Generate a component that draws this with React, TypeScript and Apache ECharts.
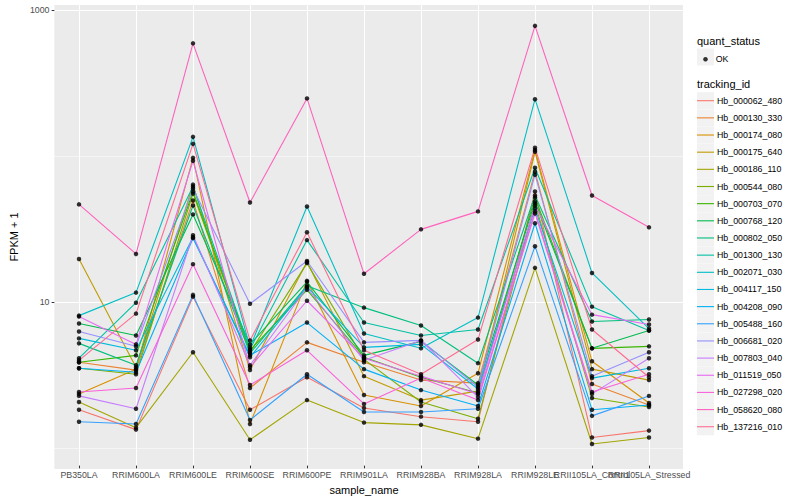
import React, { useEffect, useRef } from "react";
import * as echarts from "echarts";

const categories = [
  "PB350LA",
  "RRIM600LA",
  "RRIM600LE",
  "RRIM600SE",
  "RRIM600PE",
  "RRIM901LA",
  "RRIM928BA",
  "RRIM928LA",
  "RRIM928LE",
  "RRII105LA_Control",
  "RRII105LA_Stressed",
];

const trackingIds = [
  "Hb_000062_480",
  "Hb_000130_330",
  "Hb_000174_080",
  "Hb_000175_640",
  "Hb_000186_110",
  "Hb_000544_080",
  "Hb_000703_070",
  "Hb_000768_120",
  "Hb_000802_050",
  "Hb_001300_130",
  "Hb_002071_030",
  "Hb_004117_150",
  "Hb_004208_090",
  "Hb_005488_160",
  "Hb_006681_020",
  "Hb_007803_040",
  "Hb_011519_050",
  "Hb_027298_020",
  "Hb_058620_080",
  "Hb_137216_010",
];

const colors = [
  "#F8766D", "#EA8331", "#D89000", "#C09B00", "#A3A500",
  "#7CAE00", "#39B600", "#00BB4E", "#00BF7D", "#00C1A3",
  "#00BFC4", "#00BAE0", "#00B0F6", "#35A2FF", "#9590FF",
  "#C77CFF", "#E76BF3", "#FA62DB", "#FF62BC", "#FF6C91",
];

// FPKM + 1 per sample, in the order of `categories`
const hb_000062_480 = [1.74, 1.27, 10.5, 1.74, 2.92, 1.79, 1.56, 1.44, 55.8, 1.12, 1.25];
const hb_000130_330 = [3.7, 3.27, 48.4, 2.46, 5.08, 3.7, 2.79, 2.66, 76.5, 2.62, 1.88];
const hb_000174_080 = [2.24, 3.32, 95.3, 1.39, 13.5, 2.2, 1.85, 3.11, 108, 3.76, 1.94];
const hb_000175_640 = [19.1, 3.42, 62.3, 3.27, 18.2, 2.97, 2.03, 2.34, 105, 3.32, 2.79];
const hb_000186_110 = [1.97, 1.31, 4.34, 1.08, 2.03, 1.42, 1.37, 1.1, 16.6, 1.01, 1.12];
const hb_000544_080 = [3.37, 3.06, 54.0, 4.34, 17.9, 3.88, 1.97, 1.51, 46.2, 2.1, 1.82];
const hb_000703_070 = [3.7, 4.13, 55.8, 4.48, 11.7, 4.01, 2.92, 2.27, 50.7, 4.62, 4.77];
const hb_000768_120 = [6.85, 5.67, 38.8, 4.92, 13.3, 4.13, 5.16, 2.58, 47.6, 4.62, 6.13];
const hb_000802_050 = [5.0, 3.53, 44.7, 4.27, 12.5, 8.82, 6.64, 3.65, 52.4, 7.07, 7.3];
const hb_001300_130 = [3.95, 9.54, 60.4, 4.55, 25.8, 6.96, 5.67, 6.23, 81.5, 8.96, 6.13];
const hb_002071_030 = [7.77, 11.2, 133, 4.69, 44.0, 5.85, 4.62, 7.53, 242, 15.3, 6.33];
const hb_004117_150 = [5.41, 4.48, 27.0, 4.01, 12.3, 4.69, 4.92, 2.42, 42.7, 2.88, 3.37];
const hb_004208_090 = [3.37, 3.16, 26.6, 4.13, 6.96, 3.32, 2.38, 1.85, 33.7, 1.74, 1.88];
const hb_005488_160 = [1.44, 1.39, 10.8, 1.48, 3.06, 1.68, 1.68, 1.77, 23.4, 1.58, 2.17];
const hb_006681_020 = [6.04, 4.77, 58.5, 9.39, 18.5, 5.08, 5.24, 2.5, 72.9, 2.97, 4.34];
const hb_007803_040 = [2.17, 1.77, 27.9, 3.53, 12.1, 3.82, 5.24, 2.13, 39.4, 2.24, 3.95];
const hb_011519_050 = [7.65, 4.92, 91.0, 3.42, 9.84, 3.95, 2.97, 2.24, 44.7, 7.89, 6.74];
const hb_027298_020 = [2.31, 2.46, 17.6, 2.58, 4.48, 1.91, 2.88, 2.03, 40.7, 2.31, 3.06];
const hb_058620_080 = [45.5, 20.7, 588, 46.9, 245, 15.1, 30.6, 40.7, 776, 52.4, 31.6];
const hb_137216_010 = [3.82, 8.02, 119, 5.24, 29.2, 4.48, 3.06, 5.32, 112, 6.23, 2.92];

const seriesValues = [
  hb_000062_480, hb_000130_330, hb_000174_080, hb_000175_640, hb_000186_110,
  hb_000544_080, hb_000703_070, hb_000768_120, hb_000802_050, hb_001300_130,
  hb_002071_030, hb_004117_150, hb_004208_090, hb_005488_160, hb_006681_020,
  hb_007803_040, hb_011519_050, hb_027298_020, hb_058620_080, hb_137216_010,
];

const yMajorTicks = [10, 1000];
const yMinorTicks = [1, 100];
const yMin = 0.717;
const yMax = 1081;

const FONT = "Liberation Sans, Arial, Helvetica, sans-serif";

export default function App() {
  const ref = useRef<HTMLDivElement>(null);

  useEffect(() => {
    if (!ref.current) return;
    const chart = echarts.init(ref.current, undefined, { renderer: "svg" });

    const lineIcon = "path://M0,0M17,17M0,7.95L17,7.95L17,9.05L0,9.05Z";
    const legendTop = 92.2;
    const legendItem = 17;
    const legendGap = 0.16;

    const keyRects: any[] = [
      {
        type: "rect",
        shape: { x: 697, y: 48.5, width: 17, height: 17 },
        style: { fill: "#F2F2F2" },
        z: 0,
      },
    ];
    trackingIds.forEach((_, i) => {
      keyRects.push({
        type: "rect",
        shape: { x: 697, y: legendTop + i * (legendItem + legendGap), width: 17, height: 17 },
        style: { fill: "#F2F2F2" },
        z: 0,
      });
    });

    const scatterData: any[] = [];
    seriesValues.forEach((vals) => {
      vals.forEach((v, i) => scatterData.push([i, v]));
    });

    const option: any = {
      animation: false,
      backgroundColor: "#FFFFFF",
      textStyle: { fontFamily: FONT },
      grid: [
        {
          left: 45,
          right: 117,
          top: 5,
          bottom: 31,
          show: true,
          backgroundColor: "#EBEBEB",
          borderWidth: 0,
        },
        {
          left: 79,
          right: 151,
          top: 5,
          bottom: 31,
          show: false,
        },
      ],
      xAxis: [
        {
          gridIndex: 0,
          type: "value",
          min: 0,
          max: 1,
          show: false,
        },
        {
          gridIndex: 1,
          type: "category",
          data: categories,
          boundaryGap: false,
          axisLine: { show: false },
          axisTick: { show: true, length: 2.7, lineStyle: { color: "#333333", width: 1 } },
          axisLabel: {
            interval: 0,
            fontSize: 8.8,
            color: "#4D4D4D",
            fontFamily: FONT,
            margin: 4.5,
          },
          splitLine: { show: true, lineStyle: { color: "#FFFFFF", width: 1.07 } },
          name: "sample_name",
          nameLocation: "middle",
          nameGap: 14,
          nameTextStyle: { fontSize: 11, color: "#000000", fontFamily: FONT },
        },
      ],
      yAxis: [
        {
          gridIndex: 0,
          type: "log",
          logBase: 10,
          min: yMin,
          max: yMax,
          position: "left",
          axisLine: { show: false },
          axisTick: {
            show: true,
            length: 2.7,
            lineStyle: { color: "#333333", width: 1 },
            customValues: yMajorTicks,
          },
          axisLabel: {
            customValues: yMajorTicks,
            fontSize: 8.8,
            color: "#4D4D4D",
            fontFamily: FONT,
            margin: 4.9,
            formatter: (v: number) => String(Math.round(v)),
          },
          splitLine: { show: true, lineStyle: { color: "#FFFFFF", width: 1.07 } },
          name: "FPKM + 1",
          nameLocation: "middle",
          nameGap: 26,
          nameTextStyle: { fontSize: 11, color: "#000000", fontFamily: FONT },
        },
        {
          gridIndex: 0,
          type: "log",
          logBase: 10,
          min: yMin,
          max: yMax,
          position: "right",
          axisLine: { show: false },
          axisTick: { show: false, customValues: yMinorTicks },
          axisLabel: { show: false, customValues: yMinorTicks },
          splitLine: { show: true, lineStyle: { color: "#FFFFFF", width: 0.53 } },
        },
        {
          gridIndex: 1,
          type: "log",
          logBase: 10,
          min: yMin,
          max: yMax,
          show: false,
          splitLine: { show: false },
        },
      ],
      legend: [
        {
          orient: "vertical",
          left: 703.25,
          top: 54.75,
          padding: 0,
          itemWidth: 4.5,
          itemHeight: 4.5,
          selectedMode: false,
          data: [{ name: "OK", icon: "circle", itemStyle: { color: "#000000", borderWidth: 0 } }],
          textStyle: { fontSize: 8.8, color: "#000000", fontFamily: FONT, padding: [0, 0, 0, 3] },
        },
        {
          orient: "vertical",
          left: 697,
          top: legendTop,
          padding: 0,
          itemWidth: legendItem,
          itemHeight: legendItem,
          itemGap: legendGap,
          selectedMode: false,
          data: trackingIds.map((name, i) => ({
            name,
            icon: lineIcon,
            itemStyle: { color: colors[i], borderWidth: 0 },
          })),
          textStyle: { fontSize: 8.8, color: "#000000", fontFamily: FONT, padding: [0, 0, 0, -2] },
        },
      ],
      graphic: [
        ...keyRects,
        {
          type: "text",
          x: 697,
          y: 40.5,
          style: {
            text: "quant_status",
            fontSize: 11,
            fontFamily: FONT,
            fill: "#000000",
            verticalAlign: "middle",
          },
        },
        {
          type: "text",
          x: 697,
          y: 84,
          style: {
            text: "tracking_id",
            fontSize: 11,
            fontFamily: FONT,
            fill: "#000000",
            verticalAlign: "middle",
          },
        },
      ],
      series: [
        ...trackingIds.map((name, i) => ({
          name,
          type: "line",
          xAxisIndex: 1,
          yAxisIndex: 2,
          data: seriesValues[i],
          showSymbol: false,
          symbol: "none",
          color: colors[i],
          lineStyle: { color: colors[i], width: 1.1 },
          z: 2,
        })),
        {
          name: "OK",
          type: "scatter",
          xAxisIndex: 1,
          yAxisIndex: 2,
          data: scatterData,
          symbol: "circle",
          symbolSize: 4.5,
          itemStyle: { color: "#000000" },
          z: 3,
        },
      ],
    };

    chart.setOption(option);
    return () => chart.dispose();
  }, []);

  return (
    <div
      ref={ref}
      style={{ position: "fixed", left: 0, top: 0, width: 800, height: 500, background: "#FFFFFF" }}
    />
  );
}
